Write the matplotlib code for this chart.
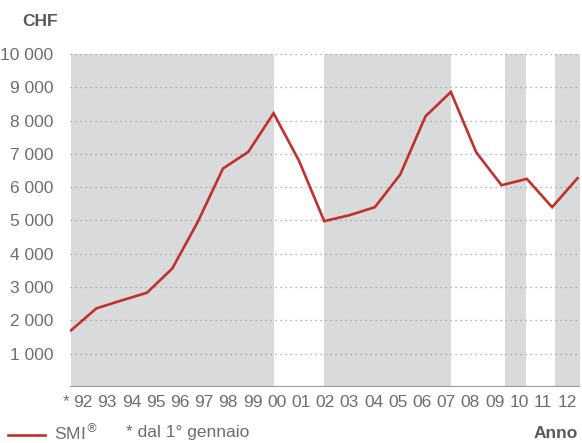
import numpy as np
import matplotlib.pyplot as plt
from matplotlib.lines import Line2D

plt.rcParams['font.family'] = ['Liberation Sans', 'DejaVu Sans']

# SMI level on 1 January of each year
years = list(range(1992, 2013))
smi = [1700, 2360, 2600, 2830, 3560, 4950, 6560, 7060, 8220, 6800, 4980,
       5160, 5400, 6380, 8130, 8860, 7050, 6060, 6250, 5400, 6270]
year_labels = ['92', '93', '94', '95', '96', '97', '98', '99', '00', '01', '02',
               '03', '04', '05', '06', '07', '08', '09', '10', '11', '12']
y_ticks = [1000, 2000, 3000, 4000, 5000, 6000, 7000, 8000, 9000, 10000]
# shaded periods (start, end) in years
bands = [(1992, 2000), (2002, 2007), (2009.15, 2009.95), (2011.1, 2012.3)]

red = '#c1312c'
band_grey = '#d9dadc'
text_grey = '#6d6e71'
dark_grey = '#58595b'

fig = plt.figure(figsize=(5.82, 4.43), dpi=100)
W, H = 582, 443
ax = fig.add_axes([70 / W, (H - 387) / H, 510 / W, (387 - 54) / H])

for a, b in bands:
    ax.axvspan(a, b, color=band_grey, lw=0, zorder=0)

for v in y_ticks:
    ax.axhline(v, color='#9a9b9d', lw=0.9, ls=(0, (1, 3)), zorder=1)
ax.axhline(0, color='#9a9b9d', lw=1.6, zorder=2)

ax.plot(years, smi, color=red, lw=1.9, zorder=3, solid_joinstyle='miter')

ax.set_xlim(1991.96, 2012.1)
ax.set_ylim(0, 10000)

for s in ax.spines.values():
    s.set_visible(False)

ax.set_yticks(y_ticks)
ax.set_yticklabels([f'{v:,}'.replace(',', ' ') for v in y_ticks])
# tick labels sit slightly inside each year interval
label_pos = np.linspace(1992.47, 2011.6, len(year_labels))
ax.set_xticks(label_pos)
ax.set_xticklabels(year_labels)
ax.tick_params(length=0, labelsize=12.5, labelcolor=text_grey)
ax.tick_params(axis='y', pad=12)
ax.tick_params(axis='x', pad=6)

fig.text(66 / W, 1 - 402 / H, '*', ha='center', va='center',
         fontsize=12.5, color=text_grey)
fig.text(58 / W, 1 - 21 / H, 'CHF', ha='right', va='center',
         fontsize=12.5, fontweight='bold', color=dark_grey)
fig.text(578 / W, 1 - 433 / H, 'Anno', ha='right', va='center',
         fontsize=12.5, fontweight='bold', color=dark_grey)

fig.add_artist(Line2D([8 / W, 45 / W], [1 - 435 / H, 1 - 435 / H],
                      color=red, lw=1.9))
fig.text(54 / W, 1 - 433 / H, 'SMI$^{®}$', ha='left', va='center',
         fontsize=12.5, color=text_grey)
fig.text(126 / W, 1 - 433 / H, '* dal 1° gennaio', ha='left', va='center',
         fontsize=12.5, color=text_grey)

fig.savefig('out.png', dpi=100)
